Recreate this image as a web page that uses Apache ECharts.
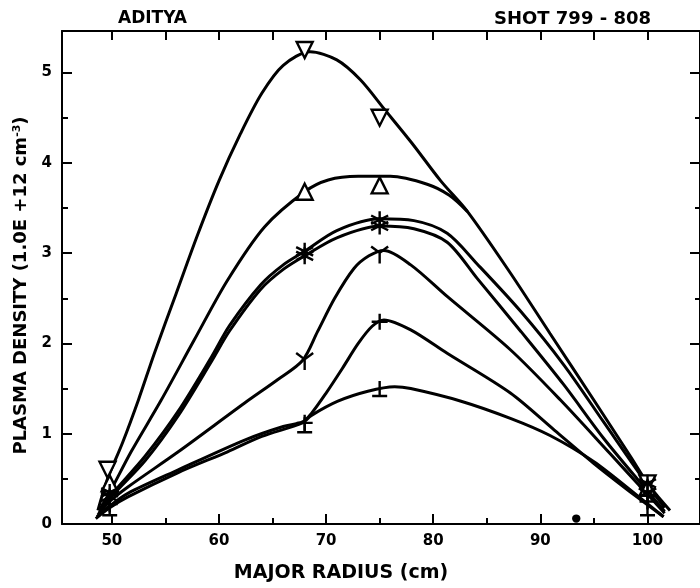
<!DOCTYPE html>
<html>
<head>
<meta charset="utf-8">
<script src="https://cdn.jsdelivr.net/npm/echarts@6/dist/echarts.min.js"></script>
<style>
  html, body { margin: 0; padding: 0; background: #fff; }
  #main { width: 700px; height: 588px; }
</style>
</head>
<body>
<div id="main"></div>
<script>
// 刻度
var xTicks = [50, 60, 70, 80, 90, 100];
var xMinorTicks = [55, 65, 75, 85, 95];
var xTopTicks = [50, 55, 60, 65, 70, 75, 80, 85, 90, 95, 100];
var yTicks = [0, 1, 2, 3, 4, 5];
var yHalfTicks = [0.5, 1.5, 2.5, 3.5, 4.5];

// 曲线 (从图上读出的点)
var curveDown = [[48.7,0.15],[49.6,0.5],[51,0.9],[52.5,1.38],[54,1.9],[56,2.55],[58,3.2],[60,3.8],[62,4.32],[64,4.77],[66,5.08],[68.5,5.23],[71,5.14],[73.2,4.92],[75.4,4.6],[78,4.22],[80.7,3.8],[83.2,3.46],[87.2,2.78],[90.9,2.11],[95,1.37],[98.4,0.75],[100.25,0.41],[102.1,0.15]];
var curveUp = [[48.8,0.15],[49.8,0.35],[51.8,0.8],[54.6,1.37],[57.7,2.04],[60.8,2.7],[64.25,3.29],[68,3.68],[70.2,3.81],[73,3.85],[76,3.85],[79.5,3.76],[81.5,3.64],[83.2,3.46]];
var curveStar1 = [[48.8,0.12],[49.8,0.3],[53.1,0.75],[56.2,1.25],[59.3,1.85],[61,2.2],[63.9,2.65],[66,2.87],[68,3.02],[71,3.25],[75,3.38],[78.2,3.36],[81.3,3.22],[84.1,2.88],[88.2,2.35],[92.2,1.76],[95.9,1.13],[99.6,0.5],[101.6,0.18]];
var curveStar2 = [[48.8,0.1],[49.8,0.28],[53.1,0.7],[56.2,1.2],[59.3,1.8],[61,2.14],[63.9,2.6],[66,2.82],[68,2.97],[71,3.17],[75,3.3],[78.2,3.27],[81.3,3.12],[84.1,2.72],[88.2,2.13],[92.2,1.54],[95.9,0.95],[99.6,0.42],[101.6,0.14]];
var curveY = [[48.7,0.1],[49.8,0.25],[51.5,0.41],[56.2,0.8],[62.4,1.34],[65.5,1.6],[67.8,1.81],[69.2,2.13],[70.8,2.5],[72.6,2.83],[74,2.97],[75.4,3.03],[77.9,2.87],[81.3,2.52],[87.2,1.93],[91.9,1.37],[96.5,0.78],[99.6,0.38],[101.6,0.12]];
var curvePlus = [[48.6,0.08],[49.8,0.2],[51.5,0.34],[56.2,0.6],[62.4,0.93],[66,1.08],[67.8,1.13],[68.6,1.22],[70,1.45],[71.5,1.72],[73,2.0],[74.3,2.19],[75.4,2.26],[77.9,2.15],[81.3,1.89],[87.2,1.45],[91.3,1.04],[95,0.67],[99,0.3],[101.5,0.08]];
var curveLow = [[48.5,0.06],[49.8,0.18],[51.5,0.3],[56.2,0.57],[60.8,0.8],[64,0.97],[67.8,1.12],[68.6,1.2],[71.1,1.36],[73.9,1.47],[76.4,1.52],[77.9,1.5],[82.6,1.36],[87.2,1.17],[90.9,0.98],[95,0.69],[99,0.32],[101.5,0.08]];

// 测量点
var ptsDown = [[49.6,0.6],[68,5.25],[75,4.5],[100,0.45]];
var ptsUp = [[49.8,0.45],[68,3.68],[75,3.75],[100,0.4]];
var ptsStar1 = [[49.8,0.35],[68,3.02],[75,3.37],[100,0.45]];
var ptsStar2 = [[49.8,0.3],[68,2.97],[75,3.3],[100,0.35]];
var ptsY = [[49.8,0.28],[68,1.8],[75,2.98],[100,0.3]];
var ptsPlus = [[49.8,0.22],[68,1.12],[75,2.24],[100,0.25]];
var ptsLow = [[49.8,0.18],[68,1.1],[75,1.5],[100,0.18]];
var speck = [[93.35,0.06]];

var X_MIN = 45.35, X_MAX = 104.9, Y_MIN = 0, Y_MAX = 5.46;
var FONT = '"DejaVu Sans", sans-serif';

var chart = echarts.init(document.getElementById('main'));

/*符号*/
var symAsterisk = 'path://M0,-10L0,10M-8.66,-5L8.66,5M-8.66,5L8.66,-5';
var symY = 'path://M0,0L-8,-6M0,0L8,-6M0,0L0,10';
var symPlus = 'path://M-8,0L8,0M0,-9L0,9';
var symT = 'path://M-8,0L8,0M0,0L0,-10';

function curve(data) {
    return {
        type: 'line', data: data, smooth: 0.3, showSymbol: false,
        lineStyle: { color: '#000', width: 3 }, silent: true, z: 2
    };
}
function marks(data, symbol, size, hollow, rotate) {
    return {
        type: 'scatter', data: data, symbol: symbol, symbolSize: size,
        symbolRotate: rotate || 0, silent: true, z: 3,
        itemStyle: {
            color: hollow ? '#fff' : '#000', borderColor: '#000',
            borderWidth: 2.4, opacity: 1
        }
    };
}
function tickAxis(pos, values, len, line, isX) {
    return {
        type: 'value', position: pos, min: isX ? X_MIN : Y_MIN, max: isX ? X_MAX : Y_MAX,
        axisLine: { show: line, onZero: false, lineStyle: { color: '#000', width: 2 } },
        axisTick: { show: true, inside: true, length: len, customValues: values,
            lineStyle: { color: '#000', width: 2 } },
        axisLabel: { show: false },
        splitLine: { show: false }
    };
}

var xMain = tickAxis('bottom', xTicks, 10, true, true);
xMain.axisLabel = { show: true, customValues: xTicks, margin: 10, color: '#000',
    fontSize: 15, fontWeight: 'bold', fontFamily: FONT };
xMain.name = 'MAJOR RADIUS (cm)';
xMain.nameLocation = 'middle';
xMain.nameGap = 40;
xMain.nameTextStyle = { color: '#000', fontSize: 19, fontWeight: 'bold', fontFamily: FONT,
    padding: [0, 80, 0, 0] };

var yMain = tickAxis('left', yTicks, 10, true, false);
yMain.axisLabel = { show: true, customValues: yTicks, margin: 10, color: '#000',
    fontSize: 15, fontWeight: 'bold', fontFamily: FONT };
yMain.name = '{a|PLASMA DENSITY (1.0E +12 cm}{s|-3}{a|)}';
yMain.nameLocation = 'middle';
yMain.nameGap = 27;
yMain.nameTextStyle = { color: '#000', fontFamily: FONT, padding: [0, 16, 0, 0],
    rich: {
        a: { fontSize: 18, fontWeight: 'bold', color: '#000', fontFamily: FONT },
        s: { fontSize: 11, fontWeight: 'bold', color: '#000', fontFamily: FONT, padding: [0, 0, 10, 0] }
    } };

chart.setOption({
    animation: false,
    backgroundColor: '#fff',
    title: [
        { text: 'ADITYA', left: 113, top: 5,
          textStyle: { color: '#000', fontSize: 17, fontWeight: 'bold', fontFamily: FONT } },
        { text: 'SHOT 799 - 808', right: 44, top: 5,
          textStyle: { color: '#000', fontSize: 18, fontWeight: 'bold', fontFamily: FONT } }
    ],
    grid: { left: 62, right: -2, top: 31, bottom: 64 },
    xAxis: [
        xMain,
        tickAxis('bottom', xMinorTicks, 6, false, true),
        tickAxis('top', xTopTicks, 9, true, true)
    ],
    yAxis: [
        yMain,
        tickAxis('left', yHalfTicks, 6, false, false),
        tickAxis('right', yTicks, 10, true, false),
        tickAxis('right', yHalfTicks, 5, false, false)
    ],
    series: [
        curve(curveDown), curve(curveUp), curve(curveStar1), curve(curveStar2),
        curve(curveY), curve(curvePlus), curve(curveLow),
        marks(ptsDown, 'triangle', 16, true, 180),
        marks(ptsUp, 'triangle', 16, true, 0),
        marks(ptsStar1, symAsterisk, 17, false),
        marks(ptsStar2, symAsterisk, 17, false),
        marks(ptsY, symY, 17, false),
        marks(ptsPlus, symPlus, 16, false),
        marks(ptsLow, symT, 15, false),
        marks(speck, 'circle', 6, false)
    ]
});
</script>
</body>
</html>
